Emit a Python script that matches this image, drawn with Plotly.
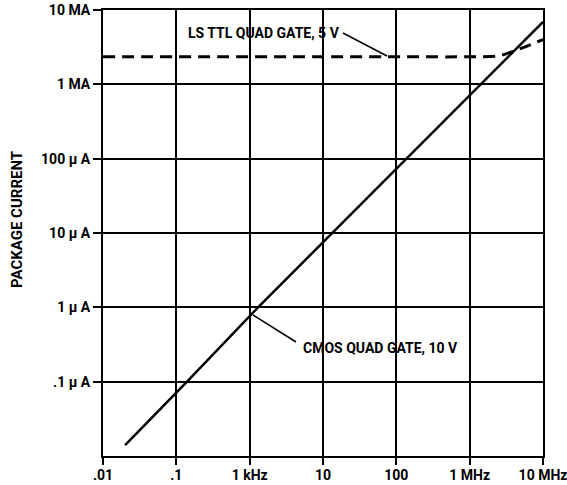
import plotly.graph_objects as go

# Data (frequency in Hz, current in A)
cmos_freq = [20, 140, 1300, 1.38e6, 1e7]
cmos_current = [1.4e-8, 1e-7, 1e-6, 1e-3, 6.9e-3]

ttl_freq = [10, 1e5, 1e6, 2.5e6, 4e6, 1e7]
ttl_current = [2.35e-3, 2.35e-3, 2.35e-3, 2.42e-3, 2.8e-3, 4e-3]

x_tickvals = [10, 100, 1e3, 1e4, 1e5, 1e6, 1e7]
x_ticktext = [".01", ".1", "1 kHz", "10", "100", "1 MHz", "10 MHz"]
y_tickvals = [1e-7, 1e-6, 1e-5, 1e-4, 1e-3, 1e-2]
y_ticktext = [".1 \u03bc A", "1 \u03bc A", "10 \u03bc A", "100 \u03bc A", "1 MA", "10 MA"]

FONT = "Roboto, Liberation Sans, sans-serif"

fig = go.Figure()
fig.add_trace(go.Scatter(x=ttl_freq, y=ttl_current, mode="lines",
                         line=dict(color="black", width=3, dash="12px,7px", shape="spline"),
                         showlegend=False))
fig.add_trace(go.Scatter(x=cmos_freq, y=cmos_current, mode="lines",
                         line=dict(color="black", width=2.5),
                         showlegend=False))

L, R, T, B = 103, 24, 10, 29
W, H = 567, 485
pw, ph = W - L - R, H - T - B

def px(x):
    return (x - L) / pw

def py(y):
    return (H - B - y) / ph

# Labels and leader lines
fig.add_annotation(text="LS TTL QUAD GATE, 5 V", xref="paper", yref="paper",
                   x=px(264), y=py(33), showarrow=False, xanchor="center", yanchor="middle",
                   font=dict(family=FONT, size=14, color="black", weight="bold"))
fig.add_shape(type="line", xref="paper", yref="paper",
              x0=px(343), y0=py(33), x1=px(387), y1=py(56),
              line=dict(color="black", width=1.5))
fig.add_annotation(text="CMOS QUAD GATE, 10 V", xref="paper", yref="paper",
                   x=px(380), y=py(348), showarrow=False, xanchor="center", yanchor="middle",
                   font=dict(family=FONT, size=14, color="black", weight="bold"))
fig.add_shape(type="line", xref="paper", yref="paper",
              x0=px(253), y0=py(315), x1=px(296), y1=py(342),
              line=dict(color="black", width=1.5))
fig.add_annotation(text="PACKAGE CURRENT", xref="paper", yref="paper",
                   x=px(17), y=py(220), showarrow=False, textangle=-90,
                   xanchor="center", yanchor="middle",
                   font=dict(family=FONT, size=15, color="black", weight="bold"))

tickfont = dict(family=FONT, size=14, color="black", weight="bold")

fig.update_xaxes(type="log", range=[1, 7], tickvals=x_tickvals, ticktext=x_ticktext,
                 showgrid=True, gridcolor="black", gridwidth=1.5,
                 showline=True, linecolor="black", linewidth=2, mirror=True,
                 ticks="outside", ticklen=7, tickwidth=2, tickcolor="black",
                 tickfont=tickfont, automargin=False, zeroline=False,
                 ticklabeloverflow="allow", ticklabelstandoff=-2)
fig.update_yaxes(type="log", range=[-8, -2], tickvals=y_tickvals, ticktext=y_ticktext,
                 showgrid=True, gridcolor="black", gridwidth=1.5,
                 showline=True, linecolor="black", linewidth=2, mirror=True,
                 ticks="outside", ticklen=8, tickwidth=2, tickcolor="black",
                 tickfont=tickfont, automargin=False, zeroline=False,
                 ticklabeloverflow="allow")

fig.update_layout(width=W, height=H, margin=dict(l=L, r=R, t=T, b=B),
                  paper_bgcolor="white", plot_bgcolor="white",
                  font=dict(family=FONT, color="black"))

fig.write_html("out.html", config={"displayModeBar": False},
               post_script="document.body.style.margin='0';document.body.style.overflow='hidden';")
